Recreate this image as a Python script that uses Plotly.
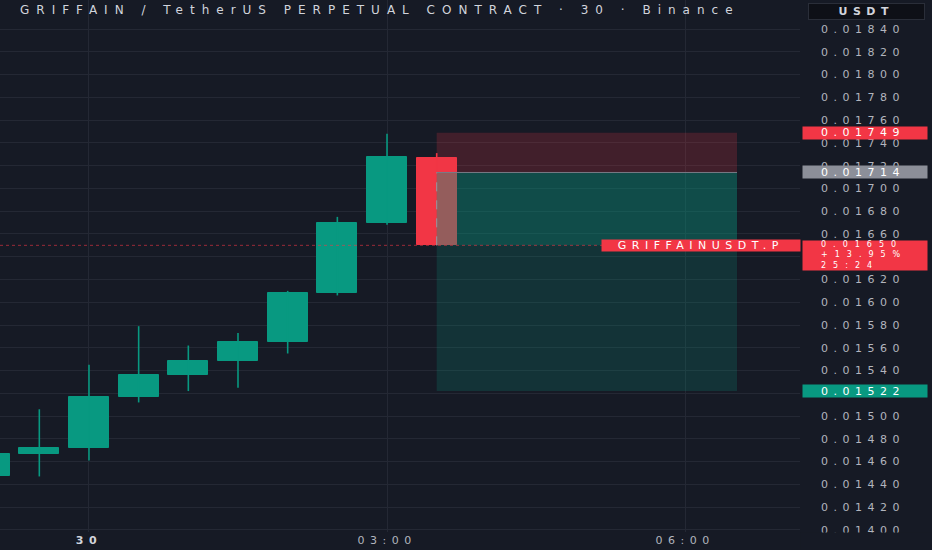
import plotly.graph_objects as go

# Data
# ===================================================
times = ["2025-01-29 23:00", "2025-01-29 23:30", "2025-01-30 00:00", "2025-01-30 00:30",
         "2025-01-30 01:00", "2025-01-30 01:30", "2025-01-30 02:00", "2025-01-30 02:30",
         "2025-01-30 03:00", "2025-01-30 03:30"]
opens  = [0.01447, 0.01467, 0.01472, 0.01517, 0.01536, 0.01548, 0.01565, 0.01608, 0.01670, 0.01727]
highs  = [0.01470, 0.01506, 0.01545, 0.01579, 0.01562, 0.01573, 0.01610, 0.01675, 0.01748, 0.01731]
lows   = [0.01445, 0.01447, 0.01461, 0.01512, 0.01522, 0.01525, 0.01555, 0.01606, 0.01668, 0.01650]
closes = [0.01467, 0.01472, 0.01517, 0.01536, 0.01548, 0.01565, 0.01608, 0.01670, 0.01728, 0.01650]

# short position tool
pos_start = "2025-01-30 03:30"
pos_end = "2025-01-30 06:31:24"
stop_price = 0.01749
entry_price = 0.01714
last_price = 0.01650
target_price = 0.01522
last_lines = ["0.01650", "+13.95%", "25:24"]

time_ticks = ["2025-01-30 00:00", "2025-01-30 03:00", "2025-01-30 06:00"]
time_labels = ["<b><span style='color:#d1d4dc'>30</span></b>", "03:00", "06:00"]
price_ticks = [0.01400, 0.01420, 0.01440, 0.01460, 0.01480, 0.01500, 0.01520, 0.01540,
               0.01560, 0.01580, 0.01600, 0.01620, 0.01640, 0.01660, 0.01680, 0.01700,
               0.01720, 0.01740, 0.01760, 0.01780, 0.01800, 0.01820, 0.01840]
hidden_ticks = [0.01520, 0.01640]   # covered by the price tags
price_labels = ["" if v in hidden_ticks else f"{v:.5f}" for v in price_ticks]

title = "GRIFFAIN / TetherUS PERPETUAL CONTRACT · 30 · Binance"

# Colors
# ===================================================
bg = "#161a25"
grid = "#242834"
up = "#089981"
down = "#f23645"
txt = "#b2b5be"
font_family = "DejaVu Sans"
candle_ms = 40 / 49.67 * 30 * 60 * 1000   # body width, in ms

fig = go.Figure()

# Wicks
for color, keep in [(up, lambda o, c: c >= o), (down, lambda o, c: c < o)]:
    wx, wy = [], []
    for t, o, h, l, c in zip(times, opens, highs, lows, closes):
        if keep(o, c):
            wx += [t, t, None]
            wy += [l, h, None]
    fig.add_trace(go.Scatter(x=wx, y=wy, mode="lines", line=dict(color=color, width=1.6),
                             hoverinfo="skip", showlegend=False))

# Bodies
colors = [up if c >= o else down for o, c in zip(opens, closes)]
fig.add_trace(go.Bar(
    x=times,
    y=[abs(c - o) for o, c in zip(opens, closes)],
    base=[min(o, c) for o, c in zip(opens, closes)],
    width=candle_ms,
    marker=dict(color=colors, line=dict(color=colors, width=1)),
    showlegend=False
))

# Position zones
fig.add_shape(type="rect", xref="x", yref="y", x0=pos_start, x1=pos_end,
              y0=entry_price, y1=stop_price, fillcolor="rgba(242,54,69,0.2)",
              line_width=0, layer="above")
fig.add_shape(type="rect", xref="x", yref="y", x0=pos_start, x1=pos_end,
              y0=target_price, y1=entry_price, fillcolor="rgba(8,153,129,0.2)",
              line_width=0, layer="above")
fig.add_shape(type="rect", xref="x", yref="y", x0=pos_start, x1=pos_end,
              y0=last_price, y1=entry_price, fillcolor="rgba(8,153,129,0.25)",
              line_width=0, layer="above")
fig.add_shape(type="line", xref="x", yref="y", x0=pos_start, x1=pos_end,
              y0=entry_price, y1=entry_price, line=dict(color="#787b86", width=1),
              layer="above")
fig.add_shape(type="line", xref="x", yref="y", x0=pos_start, x1=pos_start,
              y0=last_price, y1=entry_price, line=dict(color="#9598a1", width=1, dash="dash"),
              layer="above")
# last price line
fig.add_shape(type="line", xref="paper", yref="y", x0=0, x1=1,
              y0=last_price, y1=last_price, line=dict(color="rgba(242,54,69,0.6)", width=1, dash="dot"),
              layer="above")

# Price tags on the right scale (box + text)
small_idx = []

def tag_box(y, color, height, yshift=0, yanchor="middle"):
    fig.add_annotation(xref="paper", yref="y", x=802 / 800, y=y, xanchor="left",
                       yanchor=yanchor, yshift=yshift, text=" ", showarrow=False,
                       width=124, height=height, bgcolor=color, borderpad=0)

def tag_text(y, text, yshift=0, size=11):
    if size < 11:
        small_idx.append(len(fig.layout.annotations))
    fig.add_annotation(xref="paper", yref="y", x=819 / 800, y=y, xanchor="left",
                       yanchor="middle", yshift=yshift, text=text, showarrow=False,
                       align="left", font=dict(family=font_family, size=size, color="white"))

tag_box(stop_price, down, 12)
tag_text(stop_price, f"{stop_price:.5f}")
tag_box(entry_price, "#8c8f99", 12)
tag_text(entry_price, f"{entry_price:.5f}")
tag_box(target_price, up, 12)
tag_text(target_price, f"{target_price:.5f}")
tag_box(last_price, down, 29, yshift=5, yanchor="top")
tag_text(last_price, "<br>".join(last_lines), yshift=-9.5, size=8)

fig.add_annotation(xref="paper", yref="y", x=801 / 800, y=last_price, xanchor="right",
                   yanchor="middle", yshift=-0.5, text="GRIFFAINUSDT.P", showarrow=False,
                   width=198, height=11, bgcolor=down, borderpad=0,
                   font=dict(family=font_family, size=11, color="white"))

# cover the clipped bottom price label
fig.add_annotation(xref="paper", yref="paper", x=1, y=0, xanchor="left", yanchor="top",
                   text=" ", showarrow=False, width=132, height=18, bgcolor=bg, borderpad=0)

# USDT button
fig.add_annotation(xref="paper", yref="paper", x=866.5 / 800, y=1 - 3 / 532, xanchor="center",
                   yanchor="top", text="<b>USDT</b>", showarrow=False, width=115, height=15,
                   bgcolor="#0e1017", bordercolor="#2a2e39", borderwidth=1, borderpad=0,
                   font=dict(family=font_family, size=11, color="#d1d4dc"))

# Title
title_idx = len(fig.layout.annotations)
fig.add_annotation(xref="paper", yref="paper", x=18 / 800, y=1 - 10 / 532, xanchor="left",
                   yanchor="middle", text=title, showarrow=False, align="left",
                   font=dict(family=font_family, size=12, color="#d1d4dc"))

fig.update_layout(
    width=932, height=550,
    margin=dict(l=0, r=132, t=0, b=18),
    paper_bgcolor=bg, plot_bgcolor=bg,
    font=dict(family=font_family, size=11, color=txt),
    bargap=0,
    xaxis=dict(
        type="date",
        range=["2025-01-29 23:06:15", "2025-01-30 07:09:26"],
        tickvals=time_ticks, ticktext=time_labels,
        showgrid=True, gridcolor=grid, zeroline=False, showline=False,
        tickfont=dict(size=11, color=txt),
        fixedrange=True
    ),
    yaxis=dict(
        side="right",
        range=[0.013982, 0.018655],
        tickvals=price_ticks, ticktext=price_labels,
        showgrid=True, gridcolor=grid, zeroline=False, showline=False,
        ticklabelstandoff=20,
        tickfont=dict(size=11, color=txt),
        fixedrange=True
    ),
)

# TradingView's scale text is drawn wide: widen it with letter spacing,
# and drop the default page margin so the chart sits at the window corner
small_css = ", ".join(f'.annotation[data-index="{i}"] .annotation-text' for i in small_idx)
post = """
document.body.style.margin = '0';
var s = document.createElement('style');
s.textContent = '.xtick text, .ytick text, .annotation-text {letter-spacing: 5.5px;}'
  + ' %s {letter-spacing: 7px;}'
  + ' .annotation[data-index="%d"] .annotation-text {letter-spacing: 7px;}';
document.head.appendChild(s);
""" % (small_css, title_idx)
fig.write_html("out.html", post_script=post, config={"displayModeBar": False})
